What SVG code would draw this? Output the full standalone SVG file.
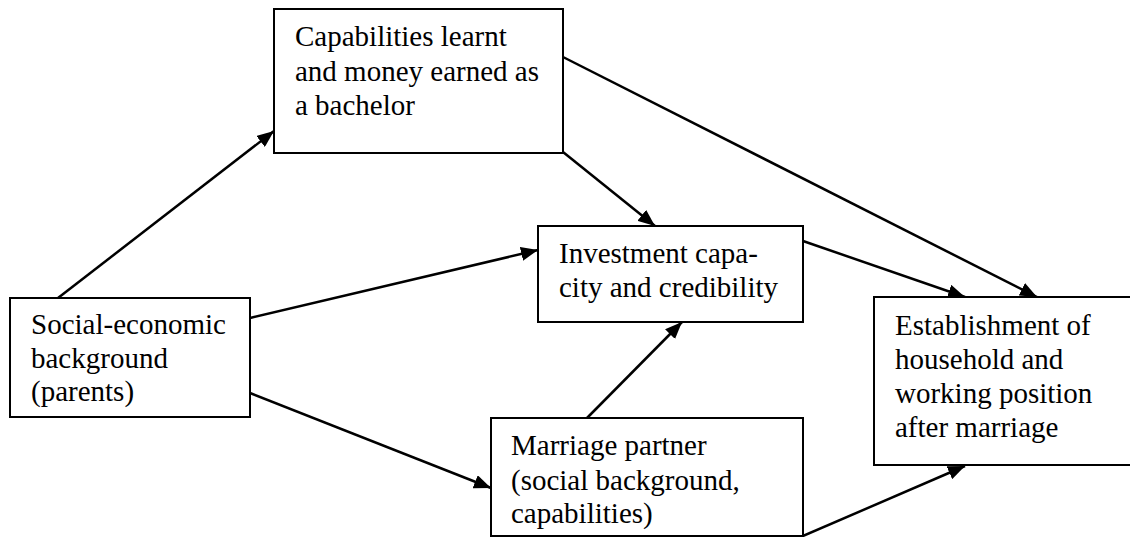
<svg xmlns="http://www.w3.org/2000/svg" width="1130" height="537" viewBox="0 0 1130 537">
<style>
.box{fill:#fff;stroke:#000;stroke-width:2}
.t{font-family:"Liberation Serif","Times New Roman",serif;font-size:29px;fill:#000}
.c{stroke:#000;stroke-width:2.5;fill:none;marker-end:url(#ah)}
</style>
<defs>
<marker id="ah" markerUnits="userSpaceOnUse" markerWidth="18" markerHeight="14" refX="17" refY="7" orient="auto">
<path d="M0,0 L17,7 L0,14 z" fill="#000"/>
</marker>
</defs>
<rect width="1130" height="537" fill="#fff"/>
<g id="connectors">
<line class="c" x1="58" y1="298" x2="274" y2="131"/>
<line class="c" x1="250" y1="318" x2="538" y2="250"/>
<line class="c" x1="250" y1="393" x2="491" y2="488"/>
<line class="c" x1="587" y1="418" x2="682" y2="322"/>
<line class="c" x1="563" y1="152" x2="655" y2="226"/>
<line class="c" x1="563" y1="57" x2="1037" y2="297"/>
<line class="c" x1="803" y1="241" x2="965" y2="297"/>
<line class="c" x1="803" y1="536" x2="965" y2="466"/>
</g>
<g id="capabilities">
<rect class="box" x="274" y="9" width="289" height="144"/>
<text class="t" x="295" y="46">Capabilities learnt</text>
<text class="t" x="295" y="81">and money earned as</text>
<text class="t" x="295" y="115">a bachelor</text>
</g>
<g id="investment">
<rect class="box" x="538" y="226" width="265" height="96"/>
<text class="t" x="559" y="263">Investment capa-</text>
<text class="t" x="559" y="297">city and credibility</text>
</g>
<g id="social">
<rect class="box" x="10" y="298" width="240" height="119"/>
<text class="t" x="31" y="334">Social-economic</text>
<text class="t" x="31" y="368">background</text>
<text class="t" x="31" y="401">(parents)</text>
</g>
<g id="marriage">
<rect class="box" x="491" y="418" width="312" height="118"/>
<text class="t" x="511" y="455">Marriage partner</text>
<text class="t" x="511" y="490">(social background,</text>
<text class="t" x="511" y="523">capabilities)</text>
</g>
<g id="establishment">
<rect class="box" x="874" y="297" width="260" height="168"/>
<text class="t" x="895" y="335">Establishment of</text>
<text class="t" x="895" y="369">household and</text>
<text class="t" x="895" y="403">working position</text>
<text class="t" x="895" y="437">after marriage</text>
</g>
</svg>
